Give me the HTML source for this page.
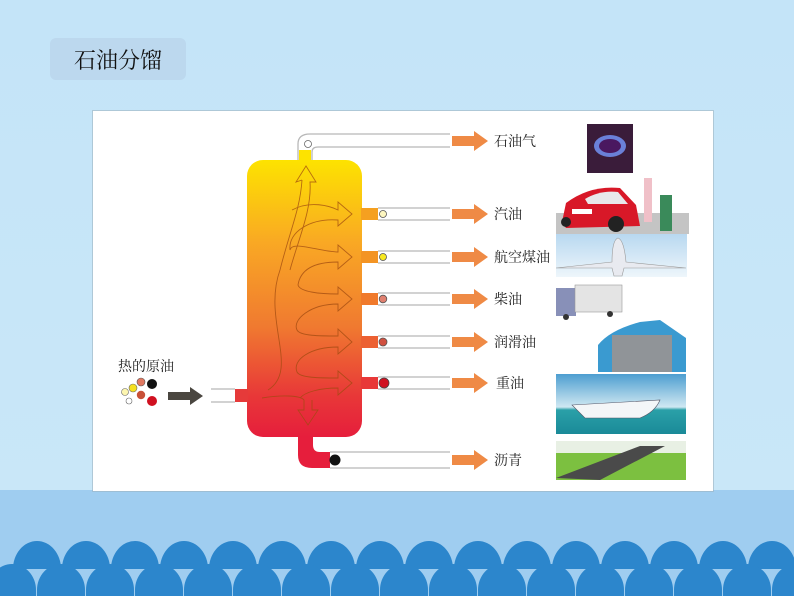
<!DOCTYPE html>
<html><head><meta charset="utf-8"><style>
html,body{margin:0;padding:0;}
body{width:794px;height:596px;overflow:hidden;position:relative;background:#c6e6f8;font-family:"Liberation Serif","Noto Serif CJK SC",serif;}
svg{position:absolute;left:0;top:0;}
</style></head><body>
<svg width="794" height="596" viewBox="0 0 794 596" xmlns="http://www.w3.org/2000/svg">
<defs>
<linearGradient id="col" x1="0" y1="0" x2="0" y2="1">
<stop offset="0" stop-color="#fde300"/><stop offset="0.3" stop-color="#f9a824"/>
<stop offset="0.6" stop-color="#f07a30"/><stop offset="0.85" stop-color="#e83838"/><stop offset="1" stop-color="#e61e3c"/>
</linearGradient>
<linearGradient id="bg" x1="0" y1="0" x2="0" y2="1"><stop offset="0" stop-color="#c4e4f8"/><stop offset="1" stop-color="#c9e7f8"/></linearGradient>
<linearGradient id="sky" x1="0" y1="0" x2="0" y2="1"><stop offset="0" stop-color="#b8d8f0"/><stop offset="1" stop-color="#eef6fb"/></linearGradient>
<linearGradient id="sea" x1="0" y1="0" x2="0" y2="1"><stop offset="0" stop-color="#4d9ed0"/><stop offset="0.55" stop-color="#cfe8f2"/><stop offset="0.6" stop-color="#2aa0a8"/><stop offset="1" stop-color="#1a8a98"/></linearGradient>
<g id="oarr"><path d="M0,-5 H22 V-10 L36,0 L22,10 V5 H0 Z" fill="#ef8a45"/></g>
</defs>
<rect width="794" height="490" fill="url(#bg)"/>
<rect y="490" width="794" height="106" fill="#9fcdf0"/>
<!-- waves -->
<g fill="#2c86cc">
<path d="M13,569 A24,28 0 0 1 61,569 Z M62,569 A24,28 0 0 1 110,569 Z M111,569 A24,28 0 0 1 159,569 Z M160,569 A24,28 0 0 1 208,569 Z M209,569 A24,28 0 0 1 257,569 Z M258,569 A24,28 0 0 1 306,569 Z M307,569 A24,28 0 0 1 355,569 Z M356,569 A24,28 0 0 1 404,569 Z M405,569 A24,28 0 0 1 453,569 Z M454,569 A24,28 0 0 1 502,569 Z M503,569 A24,28 0 0 1 551,569 Z M552,569 A24,28 0 0 1 600,569 Z M601,569 A24,28 0 0 1 649,569 Z M650,569 A24,28 0 0 1 698,569 Z M699,569 A24,28 0 0 1 747,569 Z M748,569 A24,28 0 0 1 796,569 Z"/>
<path d="M-12,596 V590 A24,26 0 0 1 36,590 V596 Z M37,596 V590 A24,26 0 0 1 85,590 V596 Z M86,596 V590 A24,26 0 0 1 134,590 V596 Z M135,596 V590 A24,26 0 0 1 183,590 V596 Z M184,596 V590 A24,26 0 0 1 232,590 V596 Z M233,596 V590 A24,26 0 0 1 281,590 V596 Z M282,596 V590 A24,26 0 0 1 330,590 V596 Z M331,596 V590 A24,26 0 0 1 379,590 V596 Z M380,596 V590 A24,26 0 0 1 428,590 V596 Z M429,596 V590 A24,26 0 0 1 477,590 V596 Z M478,596 V590 A24,26 0 0 1 526,590 V596 Z M527,596 V590 A24,26 0 0 1 575,590 V596 Z M576,596 V590 A24,26 0 0 1 624,590 V596 Z M625,596 V590 A24,26 0 0 1 673,590 V596 Z M674,596 V590 A24,26 0 0 1 722,590 V596 Z M723,596 V590 A24,26 0 0 1 771,590 V596 Z M772,596 V590 A24,26 0 0 1 820,590 V596 Z"/>
</g>
<!-- title -->
<rect x="50" y="38" width="136" height="42" rx="6" fill="#bcd8ee"/>
<text x="118" y="68" font-size="22" text-anchor="middle" fill="#111" font-family="'Noto Serif CJK SC','Noto Sans CJK SC',serif">石油分馏</text>
<!-- panel -->
<rect x="92" y="110" width="622" height="382" fill="#9fb4c2" opacity="0.6"/>
<rect x="93" y="111" width="620" height="380" fill="#fff"/>
<!-- gas pipe -->
<path d="M298,160 V144 Q298,134 310,134 H450" fill="none" stroke="#b8b8b8" stroke-width="1.3"/>
<path d="M312,160 V152 Q312,147 318,147 H450" fill="none" stroke="#b8b8b8" stroke-width="1.3"/>
<rect x="299" y="150" width="12" height="12" fill="#fde300"/>
<circle cx="308" cy="144" r="3.5" fill="#fff" stroke="#666" stroke-width="0.8"/>
<!-- bottom pipe -->
<path d="M298,430 V455 Q298,468 312,468 H330 V452 H320 Q313,452 313,445 V430 Z" fill="#e61e3c"/>
<line x1="330" y1="452" x2="450" y2="452" stroke="#b8b8b8" stroke-width="1.3"/>
<line x1="330" y1="468" x2="450" y2="468" stroke="#b8b8b8" stroke-width="1.3"/>
<circle cx="335" cy="460" r="5.5" fill="#111"/>
<!-- column -->
<rect x="247" y="160" width="115" height="277" rx="16" fill="url(#col)"/>
<!-- side pipes -->
<g stroke="#b8b8b8" stroke-width="1.3">
<line x1="378" y1="208" x2="450" y2="208"/><line x1="378" y1="220" x2="450" y2="220"/>
<line x1="378" y1="251" x2="450" y2="251"/><line x1="378" y1="263" x2="450" y2="263"/>
<line x1="378" y1="293" x2="450" y2="293"/><line x1="378" y1="305" x2="450" y2="305"/>
<line x1="378" y1="336" x2="450" y2="336"/><line x1="378" y1="348" x2="450" y2="348"/>
<line x1="378" y1="377" x2="450" y2="377"/><line x1="378" y1="389" x2="450" y2="389"/>
<line x1="211" y1="389" x2="235" y2="389"/><line x1="211" y1="402" x2="235" y2="402"/>
</g>
<rect x="361" y="208" width="17" height="12" fill="#f5a020"/>
<rect x="361" y="251" width="17" height="12" fill="#f39424"/>
<rect x="361" y="293" width="17" height="12" fill="#f07a2c"/>
<rect x="361" y="336" width="17" height="12" fill="#ec6032"/>
<rect x="361" y="377" width="17" height="12" fill="#e83838"/>
<rect x="235" y="389" width="13" height="13" fill="#e63a3a"/>
<circle cx="383" cy="214" r="3.5" fill="#fdf6c0" stroke="#555" stroke-width="0.8"/>
<circle cx="383" cy="257" r="3.5" fill="#f7e820" stroke="#555" stroke-width="0.8"/>
<circle cx="383" cy="299" r="3.8" fill="#e08070" stroke="#555" stroke-width="0.8"/>
<circle cx="383" cy="342" r="4" fill="#d05040" stroke="#555" stroke-width="0.8"/>
<circle cx="384" cy="383" r="5" fill="#d01020" stroke="#444" stroke-width="0.8"/>
<!-- flow arrows inside -->
<g fill="none" stroke="#a04a10" stroke-width="0.9" opacity="0.75">
<path d="M268,390 C300,370 262,320 280,270 C290,230 300,210 302,180"/>
<path d="M302,180 L296,182 L306,166 L316,182 L310,182 C312,210 298,240 290,270"/>
<path d="M292,210 C310,200 330,206 338,210 L338,202 L352,214 L338,226 L338,220 C310,218 288,232 290,250 C292,240 320,252 338,252 L338,245 L352,257 L338,269 L338,262 C310,262 300,272 298,285"/>
<path d="M298,285 C300,292 320,294 338,294 L338,287 L352,299 L338,311 L338,304 C310,304 292,320 297,330 C300,336 320,336 338,336 L338,329 L352,342 L338,354 L338,347 C310,347 292,360 297,372 C300,378 320,378 338,378 L338,371 L352,383 L338,395 L338,388 C320,388 305,392 300,398"/>
<path d="M262,398 C280,395 300,395 304,400 L304,410 L298,410 L308,425 L318,410 L312,410 L312,400"/>
</g>
<!-- outputs -->
<use href="#oarr" x="452" y="141"/>
<use href="#oarr" x="452" y="214"/>
<use href="#oarr" x="452" y="257"/>
<use href="#oarr" x="452" y="299"/>
<use href="#oarr" x="452" y="342"/>
<use href="#oarr" x="452" y="383"/>
<use href="#oarr" x="452" y="460"/>
<g font-size="14" fill="#222" font-family="'Noto Serif CJK SC',serif">
<text x="494" y="146">石油气</text>
<text x="494" y="219">汽油</text>
<text x="494" y="262">航空煤油</text>
<text x="494" y="304">柴油</text>
<text x="494" y="347">润滑油</text>
<text x="496" y="388">重油</text>
<text x="494" y="465">沥青</text>
<text x="118" y="371">热的原油</text>
</g>
<!-- input -->
<path d="M168,392 H190 V387 L203,396 L190,405 V400 H168 Z" fill="#4a4640"/>
<circle cx="125" cy="392" r="3.5" fill="#fdf6b0" stroke="#666" stroke-width="0.6"/>
<circle cx="133" cy="388" r="4" fill="#f5e020" stroke="#666" stroke-width="0.6"/>
<circle cx="141" cy="382" r="4" fill="#e07860" stroke="#555" stroke-width="0.6"/>
<circle cx="152" cy="384" r="5" fill="#111"/>
<circle cx="141" cy="395" r="4.2" fill="#c85038"/>
<circle cx="152" cy="401" r="5" fill="#d01020"/>
<circle cx="129" cy="401" r="3" fill="#fff" stroke="#666" stroke-width="0.6"/>
<!-- pictures -->
<rect x="587" y="124" width="46" height="49" fill="#3a1c3a"/>
<ellipse cx="610" cy="146" rx="16" ry="11" fill="#6a80d8"/>
<ellipse cx="610" cy="146" rx="11" ry="7" fill="#4a1860"/>
<rect x="556" y="213" width="133" height="21" fill="#c4c4c4"/>
<path d="M562,222 L566,203 Q590,185 620,188 L636,205 L640,226 L566,228 Z" fill="#d81828"/>
<path d="M585,199 Q600,190 618,192 L628,204 L588,204 Z" fill="#e8e8ea"/>
<rect x="572" y="209" width="20" height="5" fill="#fff"/>
<circle cx="616" cy="224" r="8" fill="#222"/><circle cx="566" cy="222" r="5" fill="#222"/>
<rect x="660" y="195" width="12" height="36" fill="#3a8a5a"/>
<rect x="644" y="178" width="8" height="44" fill="#f0c0c8"/>
<rect x="556" y="234" width="131" height="43" fill="url(#sky)"/>
<path d="M618,238 Q624,240 626,262 L686,268 L624,268 L622,276 H614 L612,268 L556,268 L612,262 Q612,240 618,238 Z" fill="#e8eaf0" stroke="#999" stroke-width="0.6"/>
<rect x="556" y="288" width="20" height="28" fill="#8890b8"/>
<rect x="575" y="285" width="47" height="27" fill="#e4e4e4" stroke="#999" stroke-width="0.6"/>
<circle cx="566" cy="317" r="3" fill="#333"/><circle cx="610" cy="314" r="3" fill="#333"/>
<path d="M598,372 L598,345 Q610,330 640,322 L660,320 L686,338 V372 Z" fill="#3a9ad0"/>
<rect x="612" y="335" width="60" height="37" fill="#909498"/>
<rect x="556" y="374" width="130" height="60" fill="url(#sea)"/>
<path d="M572,405 L660,400 Q655,412 640,418 L585,418 Z" fill="#f4f6f8" stroke="#556" stroke-width="0.6"/>
<rect x="556" y="441" width="130" height="39" fill="#7cc040"/>
<rect x="556" y="441" width="130" height="12" fill="#e8f0e4"/>
<path d="M556,478 L640,446 L665,446 L600,480 Z" fill="#4a4a4a"/>
</svg>
</body></html>
